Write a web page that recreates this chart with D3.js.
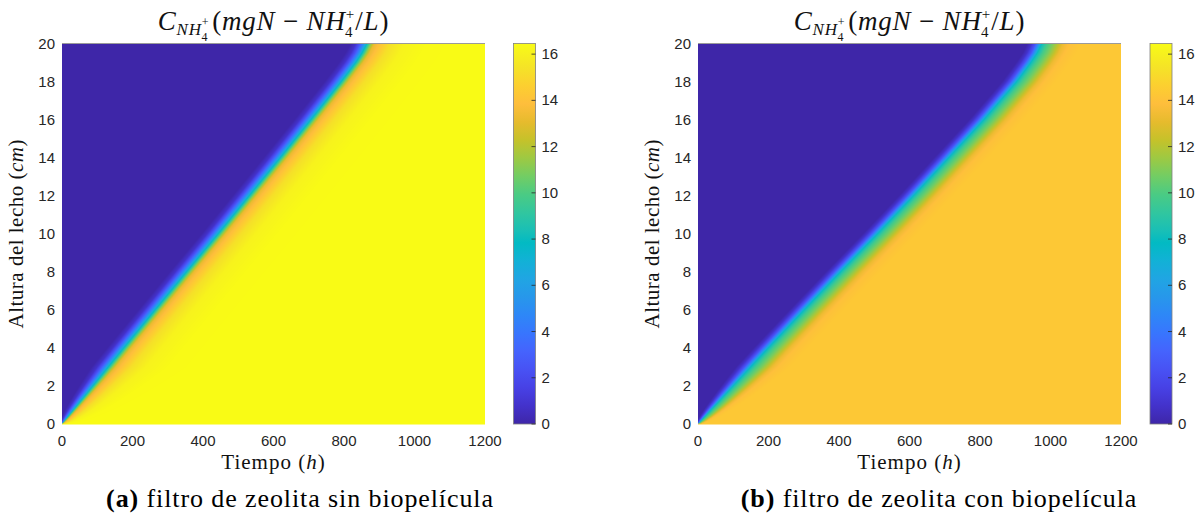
<!DOCTYPE html>
<html>
<head>
<meta charset="utf-8">
<script src="https://cdn.jsdelivr.net/npm/d3@7"></script>
<style>
  body { margin: 0; background: #fff; }
  svg { display: block; }
</style>
</head>
<body>
<svg id="chart"></svg>
<script>
/* CONSTANTS AND GLOBALS */
const width = 1198, height = 519;

// tick labels
const timeTicks = [0, 200, 400, 600, 800, 1000, 1200];
const heightTicks = [0, 2, 4, 6, 8, 10, 12, 14, 16, 18, 20];
const colorTicks = [0, 2, 4, 6, 8, 10, 12, 14, 16];
const cMax = 16.46;

// front position (time where C ~ 8 mg/L) by bed height
const frontHeights = [0, 2, 4, 6, 8, 10, 12, 14, 16, 18, 19, 19.5, 20];
const frontTimesA = [0, 88, 176, 265, 354, 444, 532, 620, 707, 793, 834, 852, 866];
const frontTimesB = [0, 100, 200, 302, 405, 510, 612, 712, 812, 905, 945, 963, 976];

// concentration across the front (hours from front -> mg/L)
const profileOffsetsA = [-48, -32, -20, -10, 0, 10, 20, 40, 65, 105, 165, 250];
const profileValuesA = [0, 0.8, 2.6, 5, 8, 11, 13.2, 14.2, 15.3, 16.1, 16.4, 16.46];
const profileOffsetsB = [-42, -30, -18, -8, 0, 15, 30, 45, 60, 80, 110];
const profileValuesB = [0, 0.8, 2.5, 5.5, 8, 9.8, 10.8, 12, 13.3, 14, 14.3];

const captions = [["(a)", " filtro de zeolita sin biopelícula"], ["(b)", " filtro de zeolita con biopelícula"]];

// parula colormap (MATLAB)
const parula = [
  [0.2422, 0.1504, 0.6603], [0.2647, 0.1978, 0.7952], [0.2783, 0.2559, 0.8991],
  [0.2810, 0.3228, 0.9579], [0.2699, 0.3892, 0.9906], [0.2206, 0.4603, 0.9973],
  [0.1786, 0.5289, 0.9682], [0.1540, 0.5902, 0.9218], [0.1248, 0.6459, 0.8883],
  [0.0689, 0.6948, 0.8394], [0.0067, 0.7312, 0.7660], [0.0964, 0.7500, 0.7120],
  [0.1938, 0.7758, 0.6251], [0.2906, 0.7973, 0.5188], [0.4456, 0.8024, 0.3909],
  [0.6174, 0.7876, 0.2612], [0.7738, 0.7598, 0.1646], [0.9035, 0.7330, 0.1774],
  [0.9956, 0.7434, 0.2371], [0.9892, 0.8136, 0.1885], [0.9610, 0.8890, 0.1537],
  [0.9691, 0.9606, 0.1064], [0.9769, 0.9839, 0.0805]
];
const parulaIdx = [0, 3, 6, 9, 12, 15, 18, 21, 24, 27, 30, 32, 35, 38, 41, 44, 47, 50, 53, 56, 59, 62, 63];
const parulaColors = parula.map(c => d3.rgb(c[0] * 255, c[1] * 255, c[2] * 255).toString());
const parulaDomain = parulaIdx.map(i => i / 63 * cMax);

const color = d3.scaleLinear()
  .domain(parulaDomain)
  .range(parulaColors)
  .interpolate(d3.interpolateRgb)
  .clamp(true);

const plotTop = 43.5, plotBottom = 424;
const panels = [
  { x0: 62, x1: 485, cb: 513.5, times: frontTimesA, offs: profileOffsetsA, vals: profileValuesA },
  { x0: 698, x1: 1121, cb: 1150, times: frontTimesB, offs: profileOffsetsB, vals: profileValuesB }
];

const svg = d3.select("#chart").attr("width", width).attr("height", height);

// colorbar gradient
const grad = svg.append("defs").append("linearGradient")
  .attr("id", "parula").attr("x1", 0).attr("y1", 1).attr("x2", 0).attr("y2", 0);
grad.selectAll("stop").data(parulaColors).join("stop")
  .attr("offset", (d, i) => parulaIdx[i] / 63)
  .attr("stop-color", d => d);

const tickFont = "'Liberation Sans', Arial, sans-serif";
const serif = "'Liberation Serif', 'Times New Roman', serif";

panels.forEach((p, k) => {
  const x = d3.scaleLinear().domain([0, 1200]).range([p.x0, p.x1]);
  const y = d3.scaleLinear().domain([0, 20]).range([plotBottom, plotTop]);
  const front = d3.scaleLinear().domain(frontHeights).range(p.times).clamp(true);
  const profile = d3.scaleLinear().domain(p.offs).range(p.vals).clamp(true);

  // heatmap drawn pixel by pixel into a canvas
  const w = Math.round(p.x1 - p.x0), h = Math.round(plotBottom - plotTop);
  const canvas = document.createElement("canvas");
  canvas.width = w; canvas.height = h;
  const ctx = canvas.getContext("2d");
  const img = ctx.createImageData(w, h);
  for (let j = 0; j < h; j++) {
    const z = y.invert(plotTop + j + 0.5);
    const s = Math.min(1, Math.sqrt(Math.max(z, 0) / 3));
    const tf = front(z);
    for (let i = 0; i < w; i++) {
      const t = x.invert(p.x0 + i + 0.5);
      const v = s > 0 ? profile((t - tf) / s) : p.vals[p.vals.length - 1];
      const c = d3.rgb(color(v));
      const o = (j * w + i) * 4;
      img.data[o] = c.r; img.data[o + 1] = c.g; img.data[o + 2] = c.b; img.data[o + 3] = 255;
    }
  }
  ctx.putImageData(img, 0, 0);

  const g = svg.append("g");
  g.append("image")
    .attr("x", p.x0).attr("y", plotTop)
    .attr("width", w).attr("height", h)
    .attr("preserveAspectRatio", "none")
    .attr("href", canvas.toDataURL());

  // top border
  g.append("line")
    .attr("x1", p.x0).attr("x2", p.x1).attr("y1", plotTop).attr("y2", plotTop)
    .attr("stroke", "#9a9a9a").attr("stroke-width", 1);

  // x tick labels
  g.selectAll(".xt").data(timeTicks).join("text")
    .attr("x", d => x(d)).attr("y", 446)
    .attr("text-anchor", "middle")
    .attr("font-family", tickFont).attr("font-size", 15).attr("fill", "#262626")
    .text(d => d);

  // y tick labels
  g.selectAll(".yt").data(heightTicks).join("text")
    .attr("x", p.x0 - 7).attr("y", d => y(d) + 5)
    .attr("text-anchor", "end")
    .attr("font-family", tickFont).attr("font-size", 15).attr("fill", "#262626")
    .text(d => d);

  // colorbar
  const cy = d3.scaleLinear().domain([0, cMax]).range([plotBottom, plotTop]);
  const cbw = 22;
  g.append("rect")
    .attr("x", p.cb).attr("y", plotTop).attr("width", cbw).attr("height", plotBottom - plotTop)
    .attr("fill", "url(#parula)")
    .attr("stroke", "#808080").attr("stroke-width", 0.8);
  g.selectAll(".ct").data(colorTicks).join("line")
    .attr("x1", p.cb + cbw - 4).attr("x2", p.cb + cbw)
    .attr("y1", d => cy(d)).attr("y2", d => cy(d))
    .attr("stroke", "#262626").attr("stroke-width", 0.8);
  g.selectAll(".cl").data(colorTicks).join("text")
    .attr("x", p.cb + cbw + 6).attr("y", d => cy(d) + 5)
    .attr("font-family", tickFont).attr("font-size", 15).attr("fill", "#262626")
    .text(d => d);

  // title
  const cx = (p.x0 + p.x1) / 2;
  const title = g.append("text")
    .attr("x", cx).attr("y", 30)
    .attr("text-anchor", "middle")
    .attr("font-family", serif).attr("font-size", 27).attr("fill", "#111")
    .attr("letter-spacing", 0.8);
  title.append("tspan").attr("font-style", "italic").text("C");
  title.append("tspan").attr("font-style", "italic").attr("font-size", 17).attr("dy", 5).text("NH");
  title.append("tspan").attr("font-size", 12).attr("dy", -9).text("+");
  title.append("tspan").attr("font-size", 12).attr("dx", -8).attr("dy", 15).text("4");
  title.append("tspan").attr("dx", 4).attr("dy", -11).text("(");
  title.append("tspan").attr("font-style", "italic").text("mgN");
  title.append("tspan").text("\u2005\u2212\u2005");
  title.append("tspan").attr("font-style", "italic").text("NH");
  title.append("tspan").attr("font-size", 15).attr("dy", -11).text("+");
  title.append("tspan").attr("font-size", 15).attr("dx", -10).attr("dy", 18).text("4");
  title.append("tspan").attr("dx", 2).attr("dy", -7).text("/");
  title.append("tspan").attr("font-style", "italic").text("L");
  title.append("tspan").text(")");

  // x label
  const xl = g.append("text")
    .attr("x", cx).attr("y", 469)
    .attr("text-anchor", "middle")
    .attr("font-family", serif).attr("font-size", 21).attr("fill", "#111")
    .attr("letter-spacing", 1);
  xl.append("tspan").text("Tiempo (");
  xl.append("tspan").attr("font-style", "italic").text("h");
  xl.append("tspan").text(")");

  // y label
  const yl = g.append("text")
    .attr("transform", `translate(${p.x0 - 39},${(plotTop + plotBottom) / 2}) rotate(-90)`)
    .attr("text-anchor", "middle")
    .attr("font-family", serif).attr("font-size", 21).attr("fill", "#111")
    .attr("letter-spacing", 0.5);
  yl.append("tspan").text("Altura del lecho (");
  yl.append("tspan").attr("font-style", "italic").text("cm");
  yl.append("tspan").text(")");

  // caption
  const cap = g.append("text")
    .attr("x", k === 0 ? 300 : 939).attr("y", 507)
    .attr("text-anchor", "middle")
    .attr("font-family", serif).attr("font-size", 26).attr("fill", "#000")
    .attr("letter-spacing", 0.9);
  cap.append("tspan").attr("font-weight", "bold").text(captions[k][0]);
  cap.append("tspan").text(captions[k][1]);
});
</script>
</body>
</html>
